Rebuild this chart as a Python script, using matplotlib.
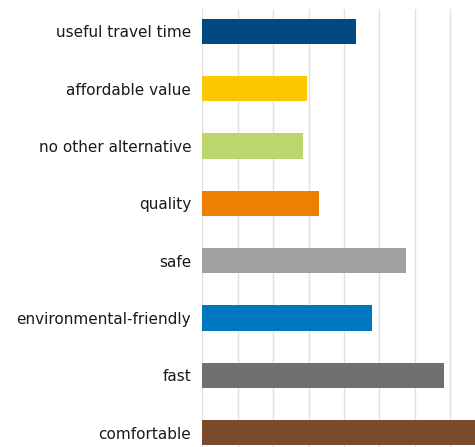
import matplotlib.pyplot as plt

categories = [
    "useful travel time",
    "affordable value",
    "no other alternative",
    "quality",
    "safe",
    "environmental-friendly",
    "fast",
    "comfortable",
]
values = [4.34, 2.96, 2.85, 3.3, 5.75, 4.79, 6.83, 8.2]
colors = ["#02497F", "#FCC800", "#BDD56D", "#EE7F00", "#A0A0A0", "#0077BE", "#707070", "#7A4A2A"]

fig = plt.figure(figsize=(4.75, 4.47), dpi=100)
ax = fig.add_axes([202.3 / 475, 0, 1 - 202.3 / 475, 1 - 9 / 447])

y = list(range(len(categories)))
ax.barh(y, values, height=0.44, color=colors, zorder=2)

ax.set_xlim(0, (475 - 202.3) / 35.4)
ax.set_ylim(7.25, -0.39)
ax.set_xticks(range(0, 8))
ax.set_xticklabels([])
ax.set_yticks(y)
ax.set_yticklabels(categories, fontsize=11, color="#1a1a1a")
ax.tick_params(axis="both", length=0)
ax.tick_params(axis="y", pad=8)
ax.grid(True, axis="x", color="#E0E0E0", linewidth=1, zorder=0)
for s in ax.spines.values():
    s.set_visible(False)

fig.savefig("out.png", dpi=100)
